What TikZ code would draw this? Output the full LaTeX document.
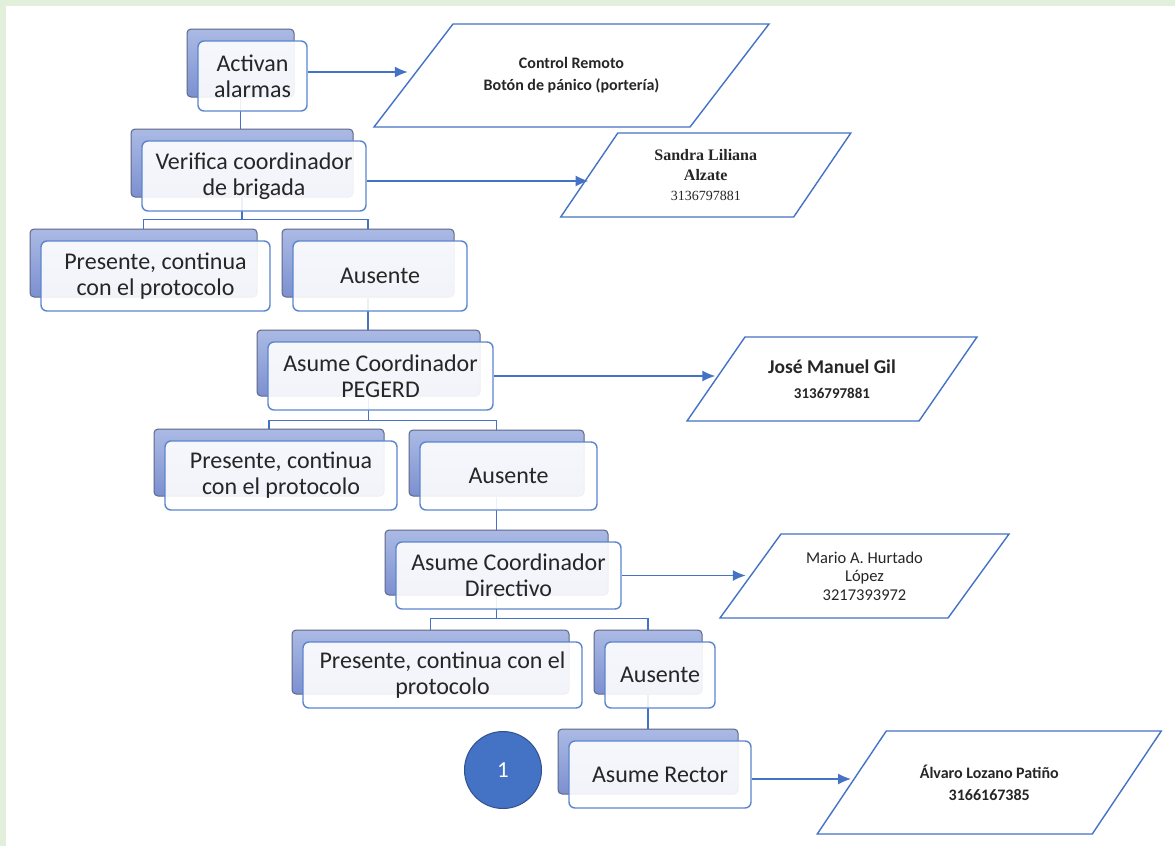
\documentclass[tikz,border=0pt]{standalone}
\usepackage{fontspec}
\setmainfont{Carlito}
\newfontfamily\timesf{Liberation Serif}
\usetikzlibrary{arrows.meta,calc}
\definecolor{bggreen}{HTML}{E2EFDA}
\definecolor{lblue}{HTML}{4472C4}
\definecolor{fborder}{HTML}{5B86CF}
\definecolor{btop}{HTML}{ABBAE4}
\definecolor{bbot}{HTML}{7C90D0}
\definecolor{bedge}{HTML}{5E6787}
\definecolor{txt}{HTML}{262626}
\definecolor{cedge}{HTML}{2F528F}
\pgfdeclarelayer{bg}\pgfdeclarelayer{lines}\pgfsetlayers{bg,lines,main}
\tikzset{
 backbox/.style={rectangle, rounded corners=4pt, draw=bedge, line width=1pt, top color=btop, bottom color=bbot},
 frontbox/.style={rectangle, rounded corners=6pt, draw=fborder, line width=1.4pt, fill=white, fill opacity=0.9, text opacity=1, text=txt, align=center, font=\fontsize{24}{26}\selectfont, inner sep=2pt},
 conn/.style={draw=lblue, line width=1.4pt},
 arr/.style={conn, -{Latex[length=13pt,width=11pt]}},
 para/.style={draw=lblue, line width=1.4pt, transform shape},
 ptext/.style={align=center, text=txt},
}
% name, cx, cy, w, h, text
\newcommand\sabox[6]{%
 \node[backbox, minimum width=#4pt-2pt, minimum height=#5pt-2pt] (#1b) at (#2-12,#3-13) {};
 \node[frontbox, minimum width=#4pt, minimum height=#5pt] (#1) at (#2,#3) {#6};
}
\begin{document}
\begin{tikzpicture}[x=1pt,y=-1pt]
\useasboundingbox (0,0) rectangle (1175,846);
\begin{pgfonlayer}{bg}
 \fill[bggreen] (0,0) rectangle (1175,846);
 \fill[white] (6,6) rectangle (1175,846);
\end{pgfonlayer}

\sabox{A}{252.5}{76}{109}{70}{Activan\\alarmas}
\sabox{V}{254}{176}{224}{70}{Verifica coordinador\\de brigada}
\sabox{P1}{155.5}{276}{229}{70}{Presente, continua\\con el protocolo}
\sabox{A1}{380}{276}{174}{70}{Ausente}
\sabox{C1}{380.5}{376}{225}{68}{Asume Coordinador\\PEGERD}
\sabox{P2}{281}{475.5}{232}{69}{Presente, continua\\con el protocolo}
\sabox{A2}{508.5}{476}{177}{68}{Ausente}
\sabox{C2}{508.5}{575.5}{225}{67}{Asume Coordinador\\Directivo}
\sabox{P3}{442.5}{675}{279}{66}{Presente, continua con el\\protocolo}
\sabox{A3}{660}{675}{110}{66}{Ausente}
\sabox{R}{660}{774.5}{182}{67}{Asume Rector}

\node[circle, fill=lblue, draw=cedge, line width=1pt, minimum size=77pt, text=white, font=\fontsize{23}{23}\selectfont] (one) at (503,770) {1};

% parallelograms
\node[para, xslant=0.767, minimum width=316pt, minimum height=103pt] (p1) at (571.5,75.5) {};
\node[para, xslant=0.68, minimum width=233pt, minimum height=84pt] (p2) at (705.75,175) {};
\node[para, xslant=0.69, minimum width=232pt, minimum height=84pt] (p3) at (832,379) {};
\node[para, xslant=0.726, minimum width=228pt, minimum height=84pt] (p4) at (864.5,576) {};
\node[para, xslant=0.67, minimum width=275pt, minimum height=103pt] (p5) at (989.25,782.5) {};

\node[ptext, font=\bfseries\fontsize{16}{22}\selectfont] (t1) at (p1) {Control Remoto\\Botón de pánico (portería)};
\node[ptext, font=\timesf\fontsize{16}{20}\selectfont] (t2) at (p2) {{\bfseries Sandra Liliana}\\{\bfseries Alzate}\\{\fontsize{14}{17}\selectfont 3136797881}};
\node[ptext, font=\fontsize{19.5}{25}\selectfont] (t3) at (p3) {{\bfseries José Manuel Gil}\\{\bfseries\fontsize{15}{25}\selectfont 3136797881}};
\node[ptext, font=\fontsize{16.5}{18.5}\selectfont] (t4) at (p4) {Mario A. Hurtado\\López\\3217393972};
\node[ptext, font=\bfseries\fontsize{16}{22}\selectfont] (t5) at (p5) {Álvaro Lozano Patiño\\3166167385};

\begin{pgfonlayer}{lines}
 \draw[conn] (Ab.south) -- (Ab.south |- Vb.north);
 \coordinate (j1) at ($(Vb.south)+(0,22)$);
 \draw[conn] (Vb.south) -- (j1);
 \draw[conn] (P1b.north) |- (j1) -| (A1b.north);
 \draw[conn] (A1b.south) -- (A1b.south |- C1b.north);
 \coordinate (j2) at ($(C1b.south)+(0,24)$);
 \draw[conn] (C1b.south) -- (j2);
 \draw[conn] (P2b.north) |- (j2) -| (A2b.north);
 \draw[conn] (A2b.south) -- (A2b.south |- C2b.north);
 \coordinate (j3) at ($(C2b.south)+(0,23)$);
 \draw[conn] (C2b.south) -- (j3);
 \draw[conn] (P3b.north) |- (j3) -| (A3b.north);
 \draw[conn] (A3b.south) -- (A3b.south |- Rb.north);
\end{pgfonlayer}

\draw[arr, shorten >=5pt] ([yshift=4pt]A.east) -- ([yshift=4pt]A.east -| p1.west);
\draw[arr] ([yshift=-5pt]V.east) -- ([yshift=-5pt]V.east -| p2.west);
\draw[arr] (C1.east) -- (C1.east -| p3.west);
\draw[arr, shorten >=4pt] (C2.east) -- (C2.east -| p4.west);
\draw[arr] ([yshift=-4.5pt]R.east) -- ([yshift=-4.5pt]R.east -| p5.west);
\end{tikzpicture}
\end{document}
